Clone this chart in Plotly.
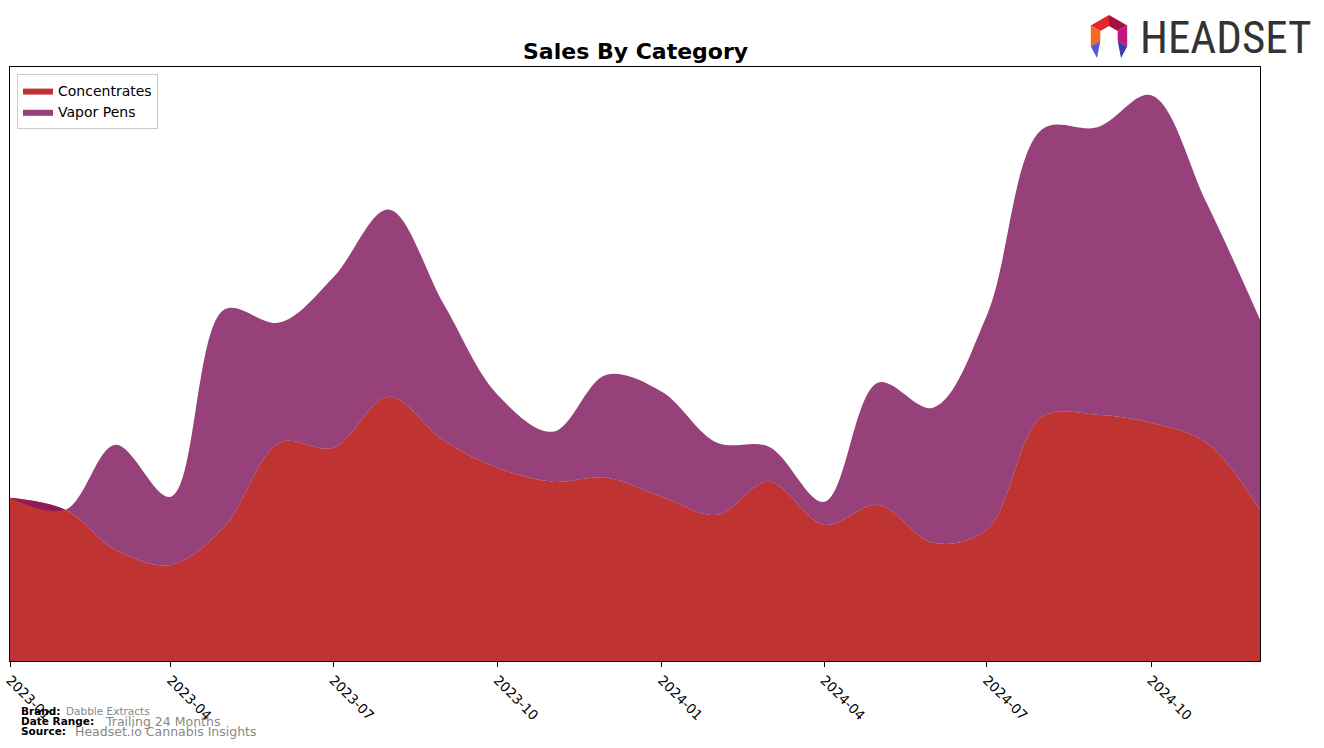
import plotly.graph_objects as go
import numpy as np

# ---------------- data ----------------
months = ["2023-01-01", "2023-02-01", "2023-03-01", "2023-04-01", "2023-05-01", "2023-06-01",
          "2023-07-01", "2023-08-01", "2023-09-01", "2023-10-01", "2023-11-01", "2023-12-01",
          "2024-01-01", "2024-02-01", "2024-03-01", "2024-04-01", "2024-05-01", "2024-06-01",
          "2024-07-01", "2024-08-01", "2024-09-01", "2024-10-01", "2024-11-01", "2024-12-01"]

concentrates = [163, 151, 111, 96, 134, 218, 213, 264, 220, 193, 179, 183,
                164, 146, 179, 136, 156, 118, 131, 244, 246, 238, 218, 151]

vapor_pens = [0, 0, 105, 68, 217, 120, 170, 187, 136, 73, 50, 103,
              105, 72, 35, 23, 122, 135, 214, 287, 287, 327, 240, 190]

series_names = ["Concentrates", "Vapor Pens"]

brand = "Dabble Extracts"
date_range = "Trailing 24 Months"
source = "Headset.io Cannabis Insights"

# ---------------- layout geometry ----------------
W, H = 1324, 748
L, R, T, B = 10, 1260, 67, 661   # plot area in pixels


def px(x, y):
    return (x - L) / (R - L), (B - y) / (B - T)


stack_top = (np.array(concentrates) + np.array(vapor_pens)).tolist()
ymax = max(stack_top) * 1.05

RED = "rgb(192,51,51)"
PURPLE = "rgba(127,23,93,0.82)"

fig = go.Figure()
fig.add_trace(go.Scatter(
    x=months, y=concentrates, name=series_names[0], mode="lines",
    line=dict(width=0, shape="spline", smoothing=1.0, color=RED),
    fill="tozeroy", fillcolor=RED))
fig.add_trace(go.Scatter(
    x=months, y=stack_top, name=series_names[1], mode="lines",
    line=dict(width=0, shape="spline", smoothing=1.0, color=PURPLE),
    fill="tonexty", fillcolor=PURPLE))

fig.update_layout(
    width=W, height=H,
    margin=dict(l=L, r=W - R, t=T, b=H - B, pad=0, autoexpand=False),
    paper_bgcolor="white", plot_bgcolor="white",
    font=dict(family="DejaVu Sans", size=13, color="black"),
    showlegend=True,
    legend=dict(x=px(17, 74)[0], y=px(17, 74)[1], xanchor="left", yanchor="top",
                bgcolor="white", bordercolor="#cccccc", borderwidth=1,
                font=dict(size=14, family="DejaVu Sans"), itemwidth=30,
                traceorder="normal", tracegroupgap=1),
)

fig.update_xaxes(
    type="date", range=[months[0], months[-1]], automargin=False,
    tick0=months[0], dtick="M3", tickformat="%Y-%m",
    tickangle=45, ticks="outside", ticklen=5, tickcolor="black",
    showgrid=False, zeroline=False,
    showline=True, linecolor="black", linewidth=1, mirror=True,
    tickfont=dict(size=13.5, family="DejaVu Sans", color="black"),
)
fig.update_yaxes(
    range=[0, ymax], automargin=False, showticklabels=False, ticks="", showgrid=False, zeroline=False,
    showline=True, linecolor="black", linewidth=1, mirror=True,
)

# title
tx, ty = px(635, 52)
fig.add_annotation(x=tx, y=ty, xref="paper", yref="paper", xanchor="center", yanchor="middle",
                   text="<b>Sales By Category</b>", showarrow=False,
                   font=dict(size=22, family="DejaVu Sans", color="black"))

# footer
footer = [
    (711, "Brand:", 64, brand, 10.5),
    (721, "Date Range:", 103, date_range, 12.5),
    (731, "Source:", 73, source, 12.5),
]
for yy, lab, vx, val, vs in footer:
    ax, ay = px(19, yy)
    fig.add_annotation(x=ax, y=ay, xref="paper", yref="paper", xanchor="left", yanchor="middle",
                       text=f"<b>{lab}</b>", showarrow=False,
                       font=dict(size=10.5, family="DejaVu Sans", color="black"))
    bx, by = px(vx, yy)
    fig.add_annotation(x=bx, y=by, xref="paper", yref="paper", xanchor="left", yanchor="middle",
                       text=val, showarrow=False,
                       font=dict(size=vs, family="DejaVu Sans", color="#888888"))

# logo text
lx, ly = px(1138, 38)
fig.add_annotation(x=lx, y=ly, xref="paper", yref="paper", xanchor="left", yanchor="middle",
                   text="HEADSET", showarrow=False,
                   font=dict(size=45, family="Liberation Sans Narrow, Roboto Condensed, DejaVu Sans Condensed, Roboto",
                             color="#333333"))

# logo icon (hexagon ring, open at bottom)
cx, cy = 1109, 36
Ro, Ri = 21, 10
ang = [90, 30, -30, -90, -150, 150]
outer = [(cx + Ro * np.cos(np.radians(a)), cy - Ro * np.sin(np.radians(a))) for a in ang]
inner = [(cx + Ri * np.cos(np.radians(a)), cy - Ri * np.sin(np.radians(a))) for a in ang]


def poly(points, color):
    pts = [px(x, y) for x, y in points]
    d = "M " + " L ".join(f"{x:.5f},{y:.5f}" for x, y in pts) + " Z"
    fig.add_shape(type="path", path=d, xref="paper", yref="paper",
                  fillcolor=color, line=dict(width=0), layer="above")


# indices: 0 top, 1 UR, 2 LR, 3 bottom, 4 LL, 5 UL
poly([outer[5], outer[0], inner[0], inner[5]], "#e3262e")
poly([outer[0], outer[1], inner[1], inner[0]], "#a8123f")
poly([outer[1], outer[2], inner[2], inner[1]], "#c4177d")
poly([outer[4], outer[5], inner[5], inner[4]], "#f26b21")
poly([outer[4], inner[4], (cx - 12, 58)], "#5656d6")
poly([outer[2], inner[2], (cx + 12, 58)], "#3c3cae")

fig.write_html("out.html", config={"displayModeBar": False},
               post_script="document.body.style.margin='0';")
